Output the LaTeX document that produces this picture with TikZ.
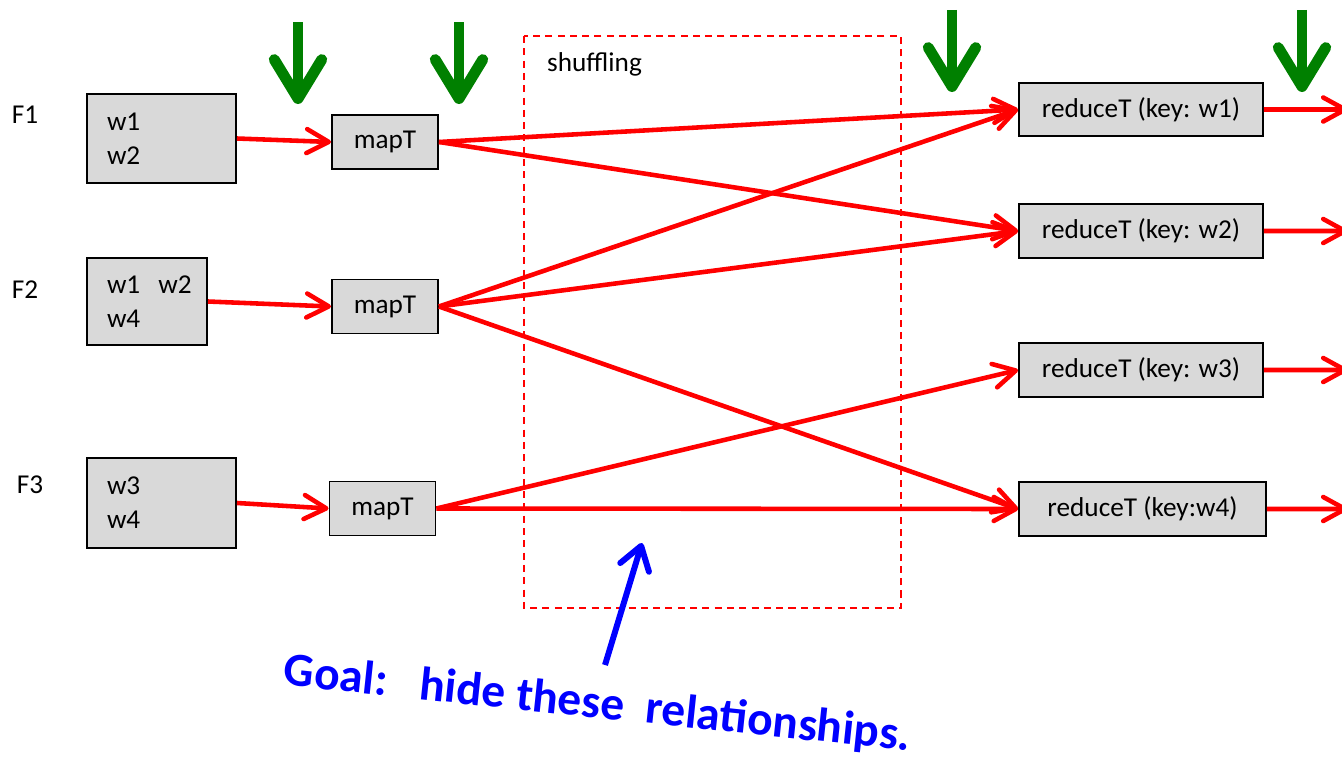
\documentclass[tikz,border=0pt]{standalone}
\usepackage{fontspec}
\setmainfont{Carlito}[BoldFont={Carlito Bold}, ItalicFont={Carlito Italic}]
\usepackage{tikz}
\definecolor{boxgray}{rgb}{0.85, 0.85, 0.85}
\definecolor{darkgreen}{rgb}{0, 0.5, 0}
\usetikzlibrary{arrows.meta}

\tikzset{
	fbox/.style = {draw, line width=1.1pt, fill=boxgray, align=left, inner xsep=0.4cm, minimum height=1.78cm},
	tbox/.style = {draw, line width=1.1pt, fill=boxgray, minimum height=1.08cm, align=center},
	flow/.style = {red, line width=2.6pt, -{Straight Barb[length=0.44cm, width=0.48cm, round]}},
	hint/.style = {darkgreen, line width=6.2pt, -{Straight Barb[length=0.78cm, width=0.95cm, round]}}
}

\begin{document}
\begin{tikzpicture}[font=\fontsize{15.5}{19.3}\selectfont]
			\useasboundingbox (0,0) rectangle (26.84,-15.24);
			
			\node[xshift = 0.5cm, yshift = -2.30cm] (f1){F1};
			\node[xshift = 0.5cm, yshift = -5.80cm] (f2){F2};
			\node[xshift = 0.6cm, yshift = -9.70cm] (f3){F3};
			
			\node[fbox, xshift = 3.23cm, yshift = -2.77cm, text width = 2.18cm] (in1){w1\\w2};
			\node[fbox, xshift = 2.94cm, yshift = -6.03cm, text width = 1.60cm, minimum height = 1.74cm] (in2){w1~~w2\\w4};
			\node[fbox, xshift = 3.23cm, yshift = -10.06cm, text width = 2.18cm, minimum height = 1.80cm] (in3){w3\\w4};
			
			\node[tbox, xshift = 7.70cm, yshift = -2.84cm, minimum width = 2.12cm] (m1){mapT};
			\node[tbox, xshift = 7.70cm, yshift = -6.13cm, minimum width = 2.12cm] (m2){mapT};
			\node[tbox, xshift = 7.65cm, yshift = -10.17cm, minimum width = 2.12cm] (m3){mapT};
			
			\node[tbox, xshift = 22.82cm, yshift = -2.19cm, minimum width = 4.88cm, minimum height = 1.06cm] (r1){reduceT (key: w1)};
			\node[tbox, xshift = 22.82cm, yshift = -4.62cm, minimum width = 4.88cm] (r2){reduceT (key: w2)};
			\node[tbox, xshift = 22.82cm, yshift = -7.40cm, minimum width = 4.88cm] (r3){reduceT (key: w3)};
			\node[tbox, xshift = 22.85cm, yshift = -10.18cm, minimum width = 4.94cm] (r4){reduceT (key:w4)};
			
			\draw[red, line width=0.9pt, dash pattern=on 4pt off 3pt] (10.48,-0.72) rectangle (18.02,-12.16);
			\node[anchor=west, xshift = 10.82cm, yshift = -1.28cm] (shuf){shuffling};
			
			\draw[flow] (in1.east) -- (m1.west);
			\draw[flow] (in2.east) -- (m2.west);
			\draw[flow] (in3.east) -- (m3.west);
			
			\draw[flow] (m1.east) -- (r1.west);
			\draw[flow] (m1.east) -- (r2.west);
			\draw[flow] (m2.east) -- (r1.west);
			\draw[flow] (m2.east) -- (r2.west);
			\draw[flow] (m2.east) -- (r4.west);
			\draw[flow] (m3.east) -- (r3.west);
			\draw[flow] (m3.east) -- (r4.west);
			
			% outputs run off the right edge
			\coordinate (o1) at (26.95,-2.19);
			\coordinate (o2) at (26.95,-4.62);
			\coordinate (o3) at (26.95,-7.40);
			\coordinate (o4) at (26.95,-10.18);
			\draw[flow] (r1.east) -- (o1);
			\draw[flow] (r2.east) -- (o2);
			\draw[flow] (r3.east) -- (o3);
			\draw[flow] (r4.east) -- (o4);
			
			\coordinate (g1a) at (5.96,-0.44);   \coordinate (g1b) at (5.96,-2.08);
			\coordinate (g2a) at (9.18,-0.44);   \coordinate (g2b) at (9.18,-2.08);
			\coordinate (g3a) at (19.04,-0.20);  \coordinate (g3b) at (19.04,-1.84);
			\coordinate (g4a) at (26.04,-0.20);  \coordinate (g4b) at (26.04,-1.84);
			\draw[hint] (g1a) -- (g1b);
			\draw[hint] (g2a) -- (g2b);
			\draw[hint] (g3a) -- (g3b);
			\draw[hint] (g4a) -- (g4b);
			
			\node[blue, rotate=-6, inner sep=0pt, font=\fontsize{27}{30}\selectfont\bfseries] (goal) at (11.95,-14.10) {Goal:\ \ \ hide these\ \ relationships.};
			\coordinate (ga) at (12.10,-13.30);
			\coordinate (gb) at (12.84,-10.86);
			\draw[blue, line width=3.4pt, -{Straight Barb[length=0.45cm, width=0.6cm, round]}] (ga) -- (gb);
			
			\end{tikzpicture}
\end{document}
